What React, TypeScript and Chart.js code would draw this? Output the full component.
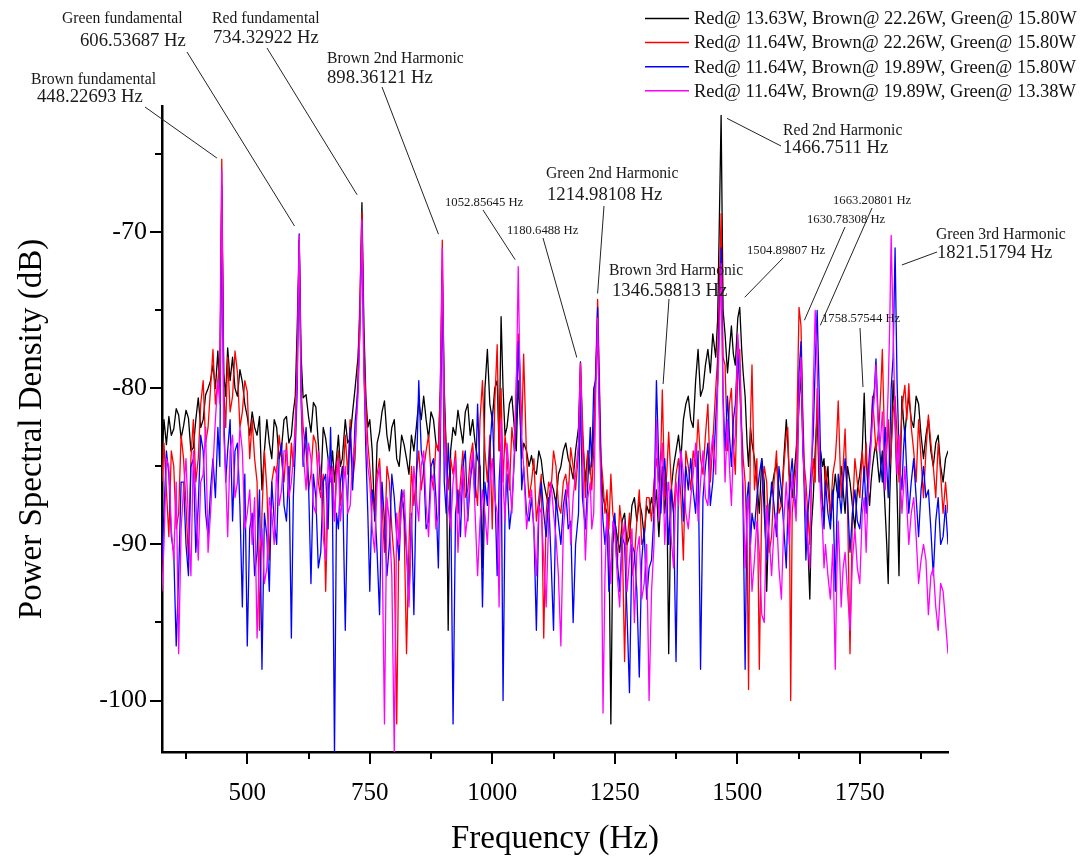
import React, { useEffect, useRef } from "react";
import { Chart, registerables } from "chart.js";

Chart.register(...registerables);

const FONT = '"Liberation Serif", "Times New Roman", Times, serif';

// ---------- data (Hz, dB) ----------
const FREQ = [
  326, 330, 335, 340, 345, 350, 355, 360, 365, 370, 375, 380, 385, 390, 395, 400, 405, 410, 415, 420,
  425, 430, 435, 440, 444, 448, 452, 456, 460, 465, 470, 475, 480, 485, 490, 495, 500,
  505, 510, 515, 520, 525, 530, 535, 540, 545, 550, 555, 560, 565, 570, 575, 580, 585, 590, 594, 598,
  602, 606, 610, 614, 620, 625, 630, 635, 640, 645, 650, 655, 660, 665, 670,
  674, 678, 682, 686, 690, 694, 700, 705, 710, 715, 720, 726, 730, 734, 738,
  742, 746, 750, 755, 760, 765, 770, 775, 780, 785, 790, 795, 800, 805, 810, 815, 820, 825, 830,
  835, 840, 845, 850, 855, 860, 865, 870, 875, 880, 885, 890, 894, 898, 902, 906, 910,
  915, 920, 925, 930, 935, 940, 945, 950, 955, 960, 965, 970, 975, 980, 985, 990, 995, 1000, 1005, 1010,
  1014, 1018, 1022, 1026, 1030, 1035, 1040, 1045, 1049, 1053, 1057, 1060, 1064, 1070,
  1075, 1080, 1085, 1090, 1095, 1100, 1105, 1110, 1115, 1120, 1125, 1130, 1135, 1140, 1145, 1150, 1155, 1160, 1165, 1170,
  1176, 1180, 1184, 1190, 1195, 1200, 1203, 1207, 1211, 1215, 1219, 1222, 1226,
  1230, 1234, 1238, 1242, 1246, 1250, 1255, 1260, 1265, 1270, 1275, 1280, 1285, 1290, 1295, 1300, 1305, 1310, 1315, 1320,
  1325, 1330, 1335, 1340, 1344, 1347, 1352, 1356, 1360, 1365, 1370, 1375, 1380, 1385, 1390, 1395, 1400,
  1405, 1410, 1415, 1420, 1425, 1430, 1435, 1440, 1445, 1450, 1456, 1460, 1463, 1467, 1471,
  1475, 1480, 1484, 1488, 1492, 1496, 1501, 1505, 1509, 1512, 1516, 1520, 1523, 1527, 1530,
  1535, 1540, 1545, 1550, 1555, 1560, 1565, 1570, 1575, 1580, 1585, 1590, 1595, 1600, 1603, 1606, 1609, 1612, 1616, 1620,
  1623, 1626, 1630, 1634, 1637, 1640, 1644, 1648, 1651, 1655, 1659, 1663, 1667, 1670, 1674,
  1677, 1680, 1685, 1690, 1695, 1700, 1703, 1706, 1709, 1712, 1716, 1720, 1725, 1730, 1735, 1740, 1745, 1750, 1755,
  1759, 1763, 1766, 1770, 1773, 1776, 1780, 1783, 1787, 1790, 1793, 1796, 1799, 1802, 1805, 1808, 1811, 1814,
  1818, 1822, 1826, 1830, 1833, 1836, 1839, 1842, 1846, 1850, 1855, 1860, 1865, 1870, 1875, 1880,
  1885, 1890, 1895, 1900, 1905, 1910, 1915, 1920, 1925, 1930,
];

const BLACK_DB = [
  -84.5, -82.0, -83.6, -81.8, -83.0, -82.6, -81.3, -81.7, -83.2, -82.4, -81.4, -81.9, -84.0, -83.8, -82.0, -80.6, -82.5, -82.0, -80.4, -80.0,
  -79.5, -78.5, -80.0, -77.6, -80.5, -67.5, -79.0, -80.5, -77.4, -79.5, -78.0, -80.0, -80.5, -78.8, -79.6, -81.0, -81.8,
  -83.0, -81.5, -82.5, -83.0, -81.8, -86.5, -84.0, -82.0, -83.5, -84.5, -82.0, -82.5, -84.5, -83.8, -82.0, -81.8, -83.5, -83.0, -81.5, -80.5,
  -76.0, -70.5, -78.0, -80.6, -80.4, -81.8, -82.8, -80.9, -81.2, -83.5, -86.5, -82.5, -83.2, -84.5, -85.5,
  -84.0, -86.0, -84.5, -83.0, -85.0, -84.5, -82.0, -83.5, -83.2, -81.5, -80.0, -78.0, -75.0, -68.1, -76.0,
  -80.5, -82.5, -82.0, -84.0, -88.5, -83.5, -82.8, -81.5, -80.8, -83.0, -84.0, -82.5, -82.0, -84.5, -85.0, -83.0, -83.6, -84.5, -85.5,
  -83.0, -84.0, -82.5, -80.8, -82.0, -80.5, -82.0, -83.2, -81.5, -82.0, -83.5, -84.0, -80.0, -72.5, -80.0, -84.0, -95.5,
  -84.0, -82.5, -83.0, -81.4, -82.5, -83.5, -81.5, -81.0, -83.0, -82.0, -83.5, -84.5, -85.0, -91.5, -80.0, -77.5, -81.0, -82.0, -80.0, -79.5,
  -84.0, -75.4, -80.0, -83.0, -82.5, -81.0, -80.5, -82.5, -84.0, -79.5, -82.0, -84.5, -83.5, -84.0,
  -85.0, -84.3, -85.2, -85.5, -84.0, -84.6, -86.0, -86.8, -87.5, -86.0, -86.5, -87.4, -85.5, -85.0, -84.0, -83.5, -84.5, -85.0, -85.8, -84.0,
  -82.5, -78.3, -83.0, -86.0, -84.0, -85.5, -84.5, -83.0, -79.0, -76.5, -82.0, -85.0, -87.0,
  -87.5, -88.0, -89.5, -101.5, -90.0, -88.5, -89.5, -90.5, -88.5, -88.0, -90.0, -89.5, -87.5, -87.0, -88.5, -87.2, -88.0, -89.5, -87.5, -88.0,
  -87.0, -88.0, -86.5, -89.5, -87.0, -85.0, -88.0, -86.0, -97.0, -86.5, -85.0, -84.0, -83.0, -84.5, -82.0, -81.0, -80.5,
  -82.0, -82.5, -79.5, -77.5, -80.5, -80.0, -78.5, -77.5, -79.0, -76.5, -78.0, -75.5, -70.0, -62.5, -75.0,
  -76.5, -79.0, -77.5, -76.0, -77.8, -78.5, -75.5, -74.8, -77.5, -79.0, -80.5, -83.5, -85.0, -82.5, -83.5,
  -84.5, -86.0, -88.0, -84.5, -86.0, -93.0, -87.5, -86.5, -85.5, -84.8, -86.5, -87.5, -84.5, -82.0, -83.5, -85.5, -86.0, -87.0, -85.5, -84.0,
  -83.0, -81.0, -79.0, -84.0, -86.0, -88.0, -90.0, -93.5, -89.0, -87.0, -84.0, -81.5, -86.0, -84.0, -85.0,
  -84.5, -86.5, -85.0, -88.5, -87.0, -85.5, -86.5, -87.0, -86.0, -85.0, -86.5, -88.0, -85.0, -86.0, -87.5, -89.0, -86.5, -85.5, -84.0,
  -80.3, -84.5, -86.0, -87.5, -86.0, -85.0, -84.0, -83.5, -85.0, -86.0, -85.0, -84.0, -86.0, -88.0, -90.0, -92.5, -87.0, -84.0,
  -79.5, -82.0, -86.5, -92.0, -85.0, -80.5, -82.0, -83.0, -81.5, -80.5, -82.0, -82.5, -80.5, -81.0, -83.0, -84.5,
  -83.0, -82.0, -84.0, -85.0, -83.5, -83.0, -85.0, -86.0, -84.5, -84.0,
];

const RED_DB = [
  -86.0, -83.5, -86.5, -89.5, -84.0, -85.0, -89.0, -88.0, -83.0, -84.5, -87.5, -91.0, -84.5, -82.0, -86.0, -84.5, -81.0, -79.5, -83.5, -82.5,
  -80.0, -77.5, -81.0, -79.5, -78.0, -65.3, -80.0, -82.5, -78.0, -81.5, -80.5, -77.6, -79.0, -82.5, -81.5, -79.5, -80.2,
  -84.5, -82.0, -84.5, -86.0, -95.5, -88.0, -84.0, -86.5, -91.0, -86.0, -85.0, -85.5, -83.0, -84.5, -86.0, -83.5, -86.5, -83.5, -85.0, -82.0,
  -78.0, -70.6, -80.0, -82.5, -84.0, -86.5, -85.5, -83.0, -83.5, -86.0, -87.0, -85.5, -93.0, -86.5, -85.0,
  -86.0, -88.5, -85.0, -84.0, -87.5, -86.5, -83.0, -85.5, -82.0, -86.0, -84.5, -79.0, -74.0, -68.7, -77.0,
  -81.0, -83.5, -85.0, -87.0, -88.0, -85.5, -84.5, -87.5, -90.5, -85.0, -86.0, -89.0, -91.0, -101.5, -88.0, -86.5, -88.5, -97.0, -90.0,
  -85.0, -87.5, -85.5, -84.0, -86.5, -85.2, -84.0, -83.0, -85.5, -86.5, -83.5, -84.0, -80.0, -70.5, -81.0, -84.0, -86.5,
  -84.5, -85.5, -84.0, -88.0, -86.0, -84.0, -87.0, -86.5, -84.5, -83.5, -86.0, -87.5, -82.0, -79.5, -84.0, -86.0, -83.0, -89.0, -81.0, -77.2,
  -84.0, -80.0, -86.0, -83.0, -84.5, -86.5, -82.5, -84.0, -79.5, -76.5, -79.0, -83.0, -77.8, -84.5,
  -87.0, -86.0, -84.5, -88.5, -87.0, -85.5, -96.0, -88.0, -86.0, -86.5, -84.0, -85.0, -87.5, -88.0, -86.0, -85.5, -87.0, -83.8, -85.0, -86.5,
  -84.0, -78.4, -82.0, -87.0, -84.0, -85.0, -86.5, -84.0, -79.0, -74.3, -80.0, -84.5, -86.0,
  -88.0, -86.5, -89.0, -85.5, -88.0, -89.0, -91.5, -87.5, -89.0, -97.5, -90.0, -88.0, -92.0, -91.0, -88.5, -86.5, -90.0, -89.5, -87.0, -87.0,
  -88.5, -86.0, -84.5, -86.0, -84.0, -80.1, -87.0, -85.5, -82.8, -86.0, -88.0, -85.5, -84.5, -87.0, -91.0, -84.0, -85.0,
  -86.5, -84.0, -85.0, -82.0, -84.5, -85.5, -83.0, -81.0, -86.0, -83.5, -80.0, -78.0, -74.0, -68.8, -78.0,
  -78.5, -84.0, -81.0, -80.0, -83.5, -85.5, -79.0, -77.5, -82.5, -84.5, -86.0, -90.0, -99.3, -82.0, -78.5,
  -86.5, -84.5, -98.0, -87.0, -85.0, -86.0, -90.5, -89.5, -86.0, -84.0, -88.0, -87.5, -85.0, -83.0, -82.5, -86.0, -100.0, -88.0, -86.5, -85.0,
  -80.0, -74.8, -76.0, -82.0, -85.0, -86.0, -88.0, -90.0, -86.5, -84.5, -86.0, -80.0, -84.0, -86.0, -87.5,
  -88.0, -85.0, -86.5, -88.0, -85.5, -84.5, -83.0, -80.8, -84.0, -87.0, -85.0, -82.6, -87.5, -97.0, -88.0, -84.5, -86.0, -87.0, -84.0,
  -86.0, -83.5, -86.0, -85.0, -83.0, -80.5, -82.5, -84.0, -83.0, -82.0, -80.0, -77.5, -81.5, -85.5, -84.0, -82.0, -85.0, -84.0,
  -81.5, -80.5, -83.0, -86.0, -83.5, -81.5, -80.5, -79.8, -82.0, -79.7, -82.5, -84.0, -86.0, -82.0, -84.5, -87.0,
  -84.0, -81.7, -83.5, -85.0, -87.0, -83.5, -85.5, -88.0, -86.0, -88.0,
];

const BLUE_DB = [
  -91.0, -88.0, -84.0, -85.5, -89.5, -90.5, -96.5, -92.0, -86.0, -86.0, -90.0, -92.0, -85.0, -84.5, -90.5, -87.5, -83.0, -84.0, -88.0, -89.5,
  -86.5, -84.5, -87.0, -82.5, -85.0, -67.0, -81.5, -86.0, -84.0, -82.0, -88.5, -84.0, -83.5, -87.5, -94.0, -85.5, -96.5,
  -89.0, -88.0, -92.0, -90.5, -86.5, -98.0, -88.0, -89.5, -93.0, -86.0, -88.5, -90.0, -84.5, -83.5, -87.5, -88.5, -85.0, -96.0, -87.0, -84.0,
  -80.0, -70.1, -81.0, -85.0, -82.5, -86.0, -92.5, -85.5, -87.0, -91.5, -90.5, -86.0, -85.5, -89.0, -82.5,
  -88.0, -103.5, -88.0, -89.0, -86.0, -85.0, -95.5, -87.0, -82.5, -86.5, -82.2, -80.0, -76.0, -69.5, -78.5,
  -84.0, -88.0, -93.0, -86.5, -87.5, -90.5, -94.5, -86.0, -88.5, -92.0, -90.0, -85.5, -87.0, -89.5, -91.0, -86.5, -88.0, -90.5, -93.5,
  -88.0, -94.5, -86.0, -79.5, -84.0, -85.0, -89.0, -88.5, -85.0, -84.5, -87.0, -91.5, -84.0, -72.5, -86.0, -88.0, -83.5,
  -86.5, -101.5, -88.0, -86.5, -89.5, -85.0, -84.0, -88.5, -86.0, -84.5, -87.0, -81.0, -85.5, -94.0, -86.0, -87.5, -84.0, -81.5, -86.0, -92.0,
  -86.0, -83.5, -100.0, -88.0, -85.5, -89.0, -87.5, -84.5, -82.0, -77.0, -81.0, -86.5, -85.0, -88.0,
  -88.5, -87.0, -89.0, -95.5, -88.0, -86.0, -88.0, -89.5, -87.0, -91.0, -95.5, -87.0, -88.5, -90.0, -87.5, -86.5, -89.0, -88.5, -95.0, -90.0,
  -88.0, -80.0, -87.0, -89.0, -86.0, -82.5, -85.0, -80.0, -79.5, -74.8, -81.0, -86.0, -88.5,
  -90.0, -88.5, -93.0, -91.5, -89.0, -88.0, -91.0, -93.0, -89.5, -90.0, -94.5, -99.5, -90.0, -90.5, -93.0, -98.5, -91.0, -89.0, -93.5, -91.5,
  -91.0, -88.0, -79.5, -85.0, -88.0, -86.0, -84.5, -87.0, -90.0, -86.5, -88.0, -97.5, -86.0, -84.0, -88.5, -85.0, -86.5,
  -84.5, -86.5, -88.0, -84.0, -98.0, -87.0, -85.0, -83.5, -87.5, -86.0, -82.0, -79.5, -76.0, -71.0, -80.5,
  -84.0, -80.5, -83.0, -85.0, -82.0, -81.0, -77.5, -80.0, -83.0, -88.0, -98.0, -87.0, -86.0, -90.0, -88.0,
  -89.0, -87.0, -85.5, -84.5, -88.0, -91.0, -88.5, -86.0, -87.5, -89.5, -85.0, -86.5, -89.0, -91.5, -88.0, -87.0, -85.5, -84.5, -86.5, -88.0,
  -85.0, -79.0, -77.0, -83.0, -87.0, -91.0, -88.0, -86.5, -85.0, -83.0, -78.5, -75.0, -80.0, -84.5, -87.5,
  -89.0, -86.0, -88.0, -89.0, -86.5, -93.0, -88.5, -85.5, -87.0, -88.0, -86.0, -84.5, -87.0, -90.5, -88.0, -86.5, -88.5, -89.0, -87.0,
  -85.0, -88.0, -86.0, -84.0, -83.0, -81.0, -80.0, -78.1, -81.5, -83.5, -85.0, -86.0, -84.0, -82.5, -85.0, -87.0, -84.0, -80.0,
  -78.0, -71.0, -79.5, -84.0, -85.5, -86.5, -84.0, -82.5, -85.5, -88.0, -86.0, -84.5, -87.0, -89.5, -86.5, -85.0,
  -87.0, -86.5, -89.0, -92.0, -88.5, -87.0, -90.0, -89.5, -87.5, -90.0,
];

const MAGENTA_DB = [
  -93.0, -90.0, -84.5, -85.0, -89.0, -91.0, -86.0, -97.0, -89.0, -86.5, -84.5, -88.5, -92.0, -84.0, -87.0, -91.0, -86.0, -85.5, -82.5, -90.5,
  -88.0, -85.0, -82.0, -79.5, -81.0, -66.0, -83.0, -85.5, -89.5, -84.0, -83.0, -87.0, -86.0, -82.5, -84.0, -89.0, -88.0,
  -86.5, -90.0, -87.0, -96.0, -90.5, -89.0, -92.5, -91.5, -87.0, -88.0, -90.0, -85.0, -87.5, -86.5, -84.0, -84.0, -87.0, -86.0, -84.5, -83.0,
  -79.0, -70.2, -80.5, -84.0, -86.5, -83.5, -84.5, -87.5, -88.0, -84.0, -85.5, -89.5, -91.0, -84.5, -86.0,
  -85.0, -88.5, -86.0, -84.5, -88.5, -87.0, -85.0, -88.0, -87.5, -84.5, -83.5, -80.5, -76.0, -69.2, -79.0,
  -82.5, -85.0, -86.0, -89.0, -90.5, -86.0, -85.0, -89.5, -101.5, -87.0, -88.5, -92.0, -103.3, -88.0, -90.0, -87.5, -86.5, -90.0, -94.0,
  -89.0, -85.0, -87.0, -88.5, -85.0, -84.0, -87.5, -89.5, -86.0, -85.5, -89.0, -88.0, -82.0, -71.0, -83.0, -85.5, -87.5,
  -89.0, -86.0, -84.5, -90.5, -87.0, -85.0, -89.5, -88.0, -85.5, -84.0, -88.0, -92.0, -88.5, -86.5, -88.0, -90.0, -86.0, -84.5, -87.0, -88.0,
  -94.0, -82.0, -86.0, -88.5, -83.5, -85.5, -88.0, -84.0, -80.0, -72.2, -80.5, -83.0, -85.0, -89.0,
  -87.5, -86.5, -89.0, -92.0, -87.5, -88.0, -91.0, -94.0, -88.5, -86.0, -88.0, -89.5, -92.0, -96.5, -89.0, -87.0, -86.0, -90.0, -87.0, -85.5,
  -83.5, -78.4, -84.0, -91.0, -87.0, -86.0, -89.0, -88.0, -80.5, -75.5, -83.0, -87.0, -100.8,
  -92.0, -88.0, -90.5, -92.5, -88.5, -89.0, -92.0, -94.0, -90.0, -88.5, -93.0, -91.0, -89.0, -95.0, -90.5, -89.5, -93.5, -92.5, -90.0, -100.0,
  -93.0, -90.0, -82.0, -88.5, -85.0, -83.5, -90.0, -87.0, -86.0, -89.5, -91.5, -86.0, -87.5, -84.0, -85.5, -88.0, -89.0,
  -87.0, -85.5, -83.5, -88.5, -86.0, -84.0, -87.0, -87.5, -84.5, -83.0, -85.5, -80.0, -77.0, -72.0, -81.0,
  -86.0, -82.0, -85.0, -87.5, -84.0, -83.0, -76.5, -78.5, -84.0, -86.5, -91.5, -88.0, -87.0, -90.5, -93.0,
  -91.0, -88.5, -90.5, -94.5, -95.0, -87.5, -89.5, -92.0, -89.0, -88.0, -91.5, -93.5, -88.5, -86.0, -88.0, -90.0, -87.5, -85.5, -87.0, -88.5,
  -84.0, -80.5, -78.0, -84.0, -86.0, -88.0, -90.0, -91.5, -86.0, -80.0, -75.0, -78.5, -84.5, -87.0, -89.0,
  -91.5, -90.0, -92.0, -93.5, -90.0, -98.0, -92.0, -88.5, -91.0, -94.0, -91.5, -90.5, -93.0, -95.5, -91.0, -89.0, -91.5, -92.5, -88.0,
  -87.0, -90.5, -87.5, -85.0, -83.5, -82.0, -80.5, -78.5, -82.0, -84.0, -83.0, -81.5, -84.0, -86.5, -83.0, -80.0, -76.0, -70.2,
  -76.0, -82.0, -85.5, -83.0, -86.0, -88.0, -86.5, -85.0, -87.5, -90.0, -88.0, -87.0, -89.5, -92.5, -91.0, -90.0,
  -91.0, -94.5, -92.0, -91.5, -94.0, -95.5, -92.5, -93.0, -95.0, -97.0,
];

const SERIES_LABELS = [
  "Red@ 13.63W, Brown@ 22.26W, Green@ 15.80W",
  "Red@ 11.64W, Brown@ 22.26W, Green@ 15.80W",
  "Red@ 11.64W, Brown@ 19.89W, Green@ 15.80W",
  "Red@ 11.64W, Brown@ 19.89W, Green@ 13.38W",
];
const SERIES_VALUES = [BLACK_DB, RED_DB, BLUE_DB, MAGENTA_DB];
const SERIES_COLORS = ["#000000", "#ff0000", "#0000ff", "#ff00ff"];

const X_TICKS = [375, 500, 625, 750, 875, 1000, 1125, 1250, 1375, 1500, 1625, 1750, 1875];
const X_MAJOR = [500, 750, 1000, 1250, 1500, 1750];
const Y_TICKS = [-100, -95, -90, -85, -80, -75, -70, -65];
const Y_MAJOR = [-100, -90, -80, -70];

// annotation content
const ANNOT_TITLES = [
  "Brown fundamental", "Green fundamental", "Red fundamental", "Brown 2nd Harmonic",
  "", "", "Green 2nd Harmonic", "Brown 3rd Harmonic", "Red 2nd Harmonic",
  "", "", "", "", "Green 3rd Harmonic",
];
const ANNOT_VALUES = [
  "448.22693 Hz", "606.53687 Hz", "734.32922 Hz", "898.36121 Hz",
  "1052.85645 Hz", "1180.6488 Hz", "1214.98108 Hz", "1346.58813 Hz", "1466.7511 Hz",
  "1504.89807 Hz", "1663.20801 Hz", "1630.78308 Hz", "1758.57544 Hz", "1821.51794 Hz",
];
const ANNOT_PEAK_HZ = [
  448.22693, 606.53687, 734.32922, 898.36121, 1052.85645, 1180.6488, 1214.98108,
  1346.58813, 1466.7511, 1504.89807, 1663.20801, 1630.78308, 1758.57544, 1821.51794,
];
const ANNOT_PEAK_DB = [-65.3, -70.1, -68.1, -70.5, -72.2, -78.4, -74.3, -80.1, -62.5, -74.8, -75.0, -74.8, -80.3, -71.0];

// annotation layout (pixels): titleX, titleY, valueX, valueY, lineX, lineY, endDx, endDy, small
const ANNOT_LAYOUT: [number, number, number, number, number, number, number, number, boolean][] = [
  [31, 83.5, 37, 102, 145, 107, -5, -1, false],
  [62, 23, 80, 46, 187, 52, -5, -8, false],
  [212, 22.5, 213, 43, 267, 48, -5, -8, false],
  [327, 62.5, 327, 83, 382, 87, -4, -6, false],
  [0, 0, 445, 206, 483, 210, -3, -7, true],
  [0, 0, 507, 234, 543, 238, -4, -6, true],
  [546, 178, 547, 200, 604, 206, 0, -6, false],
  [609, 275, 612, 296, 669, 299, 1, -6, false],
  [783, 135, 783, 153, 781, 146, 6, 3, false],
  [0, 0, 747, 254, 783, 258, 5, -10, true],
  [0, 0, 833, 204, 872, 208, 3, 15, true],
  [0, 0, 807, 223, 845, 227, 3, 13, true],
  [0, 0, 822, 322, 860, 328, -1, -6, true],
  [936, 239, 937, 258, 937, 252, 7, 17, false],
];

const overlayPlugin = {
  id: "overlay",
  afterDraw(chart: any) {
    const { ctx, chartArea } = chart;
    const xs = chart.scales.x;
    const ys = chart.scales.y;
    ctx.save();

    // tick marks (major longer than minor)
    ctx.strokeStyle = "#000";
    ctx.lineWidth = 2;
    ctx.beginPath();
    for (const v of X_TICKS) {
      const px = Math.round(xs.getPixelForValue(v));
      const len = X_MAJOR.includes(v) ? 12 : 7;
      ctx.moveTo(px, chartArea.bottom);
      ctx.lineTo(px, chartArea.bottom + len);
    }
    for (const v of Y_TICKS) {
      const py = Math.round(ys.getPixelForValue(v));
      const len = Y_MAJOR.includes(v) ? 12 : 7;
      ctx.moveTo(chartArea.left, py);
      ctx.lineTo(chartArea.left - len, py);
    }
    ctx.stroke();

    // legend
    ctx.textAlign = "left";
    ctx.textBaseline = "middle";
    ctx.font = `18.5px ${FONT}`;
    chart.data.datasets.forEach((ds: any, i: number) => {
      const y = 18.5 + i * 24.1;
      ctx.strokeStyle = ds.borderColor;
      ctx.lineWidth = 1.5;
      ctx.beginPath();
      ctx.moveTo(645, y);
      ctx.lineTo(689, y);
      ctx.stroke();
      ctx.fillStyle = "#111";
      ctx.fillText(ds.label, 694, y + 1);
    });

    // annotations
    ctx.textBaseline = "alphabetic";
    ctx.fillStyle = "#1a1a1a";
    ctx.strokeStyle = "#222";
    ctx.lineWidth = 1;
    ANNOT_VALUES.forEach((val, i) => {
      const [tx, ty, vx, vy, lx, ly, dx, dy, small] = ANNOT_LAYOUT[i];
      if (ANNOT_TITLES[i]) {
        ctx.font = `15.7px ${FONT}`;
        ctx.fillText(ANNOT_TITLES[i], tx, ty);
      }
      ctx.font = small ? `12.7px ${FONT}` : `18.7px ${FONT}`;
      ctx.fillText(val, vx, vy);
      const ex = xs.getPixelForValue(ANNOT_PEAK_HZ[i]) + dx;
      const ey = ys.getPixelForValue(ANNOT_PEAK_DB[i]) + dy;
      ctx.beginPath();
      ctx.moveTo(lx, ly);
      ctx.lineTo(ex, ey);
      ctx.stroke();
    });

    ctx.restore();
  },
};

export default function App() {
  const ref = useRef<HTMLCanvasElement>(null);

  useEffect(() => {
    const canvas = ref.current;
    if (!canvas) return;
    const datasets = SERIES_VALUES.map((vals, i) => ({
      label: SERIES_LABELS[i],
      data: FREQ.map((f, j) => ({ x: f, y: vals[j] })),
      borderColor: SERIES_COLORS[i],
      backgroundColor: SERIES_COLORS[i],
      borderWidth: 1.3,
      pointRadius: 0,
      tension: 0,
      fill: false,
      borderJoinStyle: "round" as const,
      order: SERIES_VALUES.length - i,
    }));

    const chart = new Chart(canvas, {
      type: "line",
      data: { datasets },
      options: {
        responsive: false,
        animation: false,
        devicePixelRatio: 1,
        layout: { padding: { top: 106, right: 141, left: 0, bottom: 0 } },
        plugins: {
          legend: { display: false },
          tooltip: { enabled: false },
        },
        scales: {
          x: {
            type: "linear",
            min: 326,
            max: 1930,
            afterBuildTicks: (s: any) => {
              s.ticks = X_TICKS.map((v) => ({ value: v }));
            },
            afterFit: (s: any) => {
              s.height = 108;
            },
            grid: {
              drawOnChartArea: false,
              drawTicks: true,
              tickLength: 12,
              color: "rgba(0,0,0,0)",
            },
            border: { display: true, color: "#000", width: 2.5 },
            ticks: {
              autoSkip: false,
              maxRotation: 0,
              padding: 14,
              color: "#000",
              font: { family: FONT, size: 25 },
              callback: (v: any) => (X_MAJOR.includes(Number(v)) ? String(v) : ""),
            },
            title: {
              display: true,
              text: "Frequency (Hz)",
              color: "#000",
              font: { family: FONT, size: 33 },
              padding: { top: 0, bottom: 1.3 },
            },
          },
          y: {
            type: "linear",
            min: -103.3,
            max: -61.9,
            afterBuildTicks: (s: any) => {
              s.ticks = Y_TICKS.map((v) => ({ value: v }));
            },
            afterFit: (s: any) => {
              s.width = 162;
            },
            grid: {
              drawOnChartArea: false,
              drawTicks: true,
              tickLength: 12,
              color: "rgba(0,0,0,0)",
            },
            border: { display: true, color: "#000", width: 2.5 },
            ticks: {
              autoSkip: false,
              padding: 3,
              color: "#000",
              font: { family: FONT, size: 26 },
              callback: (v: any) => (Y_MAJOR.includes(Number(v)) ? String(v) : ""),
            },
            title: {
              display: true,
              text: "Power Spectral Density (dB)",
              color: "#000",
              font: { family: FONT, size: 33 },
              padding: { top: 13, bottom: 0 },
            },
          },
        },
      },
      plugins: [overlayPlugin],
    });

    return () => chart.destroy();
  }, []);

  return (
    <div style={{ position: "fixed", left: 0, top: 0, width: 1089, height: 860, background: "#fff" }}>
      <canvas
        ref={ref}
        width={1089}
        height={860}
        style={{ width: "1089px", height: "860px", display: "block" }}
      />
    </div>
  );
}
